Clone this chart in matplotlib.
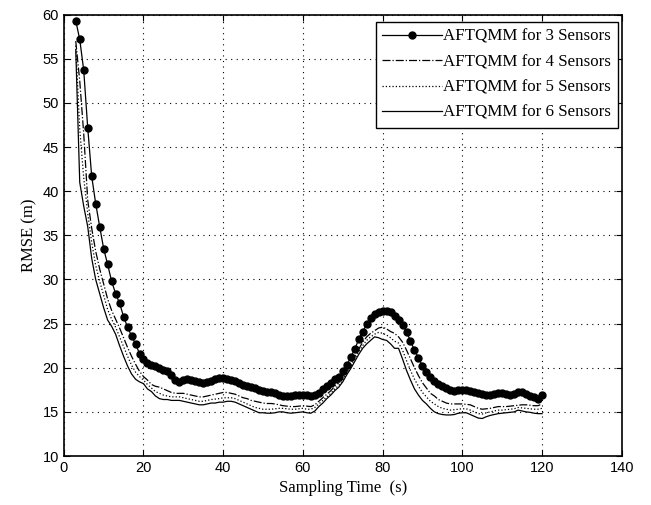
import numpy as np
import matplotlib
matplotlib.use('Agg')
import matplotlib.pyplot as plt

# sampling time (s)
t = np.arange(3, 121)

# RMSE (m), one value per second
rmse_3 = [59.3, 57.2, 53.7, 47.2, 41.7, 38.6, 36.0, 33.5, 31.7, 29.8,
          28.4, 27.3, 25.8, 24.6, 23.6, 22.7, 21.6, 21.0, 20.5, 20.3,
          20.2, 20.0, 19.8, 19.6, 19.2, 18.6, 18.4, 18.6, 18.7, 18.6,
          18.5, 18.4, 18.3, 18.4, 18.5, 18.7, 18.8, 18.8, 18.7, 18.6,
          18.5, 18.3, 18.1, 17.9, 17.8, 17.7, 17.5, 17.4, 17.3, 17.3,
          17.1, 16.9, 16.8, 16.8, 16.8, 16.9, 16.9, 16.9, 16.9, 16.8,
          16.9, 17.1, 17.6, 17.9, 18.3, 18.7, 19.0, 19.6, 20.3, 21.2,
          22.1, 23.2, 24.1, 24.9, 25.6, 26.1, 26.3, 26.45, 26.4, 26.3,
          25.9, 25.4, 24.8, 24.1, 23.0, 22.0, 21.1, 20.2, 19.5, 18.9,
          18.5, 18.2, 17.9, 17.7, 17.5, 17.4, 17.5, 17.5, 17.5, 17.4,
          17.2, 17.1, 17.0, 16.9, 16.9, 17.0, 17.1, 17.1, 17.0, 16.9,
          17.0, 17.2, 17.3, 17.0, 16.8, 16.7, 16.5, 16.9]

rmse_4 = [57.0, 52.5, 46.5, 39.0, 35.8, 33.2, 31.2, 29.5, 27.8, 26.5,
          25.5, 24.5, 23.4, 22.3, 21.3, 20.4, 19.6, 19.0, 18.6, 18.1,
          17.9, 17.8, 17.6, 17.4, 17.2, 17.1, 17.1, 17.1, 17.0, 16.9,
          16.8, 16.7, 16.7, 16.8, 16.9, 17.0, 17.1, 17.2, 17.2, 17.1,
          17.0, 16.8, 16.6, 16.5, 16.3, 16.2, 16.1, 16.0, 15.95, 15.95,
          15.9, 15.8, 15.7, 15.65, 15.6, 15.6, 15.65, 15.7, 15.65, 15.6,
          15.8, 16.2, 16.6, 17.0, 17.4, 17.9, 18.3, 18.9, 19.6, 20.4,
          21.3, 22.1, 22.9, 23.5, 23.9, 24.2, 24.5, 24.6, 24.4, 24.1,
          23.9, 23.5, 22.9, 22.0, 21.0, 20.0, 19.1, 18.3, 17.7, 17.1,
          16.8, 16.4, 16.2, 16.0, 15.9, 15.9, 15.9, 15.9, 15.85, 15.8,
          15.6, 15.4, 15.3, 15.35, 15.4, 15.5, 15.6, 15.6, 15.6, 15.65,
          15.7, 15.75, 15.8, 15.8, 15.75, 15.7, 15.7, 15.9]

rmse_5 = [56.5, 47.0, 41.5, 37.5, 34.2, 31.6, 29.8, 28.2, 26.6, 25.5,
          24.6, 23.5, 22.4, 21.3, 20.3, 19.5, 19.0, 18.6, 18.1, 17.7,
          17.3, 17.1, 16.9, 16.8, 16.7, 16.7, 16.7, 16.6, 16.5, 16.4,
          16.3, 16.2, 16.2, 16.3, 16.4, 16.45, 16.5, 16.6, 16.6, 16.6,
          16.5, 16.3, 16.1, 15.9, 15.7, 15.5, 15.4, 15.3, 15.3, 15.3,
          15.35, 15.4, 15.4, 15.35, 15.3, 15.3, 15.35, 15.4, 15.3, 15.3,
          15.5, 15.9, 16.3, 16.7, 17.1, 17.6, 18.0, 18.6, 19.4, 20.1,
          21.0, 21.8, 22.5, 23.1, 23.5, 23.8, 24.0, 23.9, 23.7, 23.4,
          23.0, 22.8, 22.0, 20.8, 19.7, 18.7, 17.9, 17.2, 16.7, 16.2,
          15.9, 15.6, 15.4, 15.3, 15.2, 15.25, 15.3, 15.35, 15.35, 15.2,
          15.0, 14.8, 14.75, 14.9, 15.0, 15.1, 15.2, 15.2, 15.25, 15.3,
          15.35, 15.5, 15.45, 15.4, 15.35, 15.3, 15.3, 15.4]

rmse_6 = [56.0, 41.0, 38.3, 36.0, 32.4, 30.0, 28.4, 26.8, 25.4, 24.7,
          23.8, 22.5, 21.3, 20.2, 19.3, 18.7, 18.4, 18.2, 17.6, 17.3,
          16.8, 16.5, 16.4, 16.4, 16.3, 16.3, 16.3, 16.2, 16.1, 16.0,
          15.9, 15.8, 15.8, 15.9, 16.0, 16.0, 16.1, 16.1, 16.2, 16.2,
          16.1, 15.9, 15.7, 15.5, 15.3, 15.1, 14.9, 14.9, 14.85, 14.85,
          14.9, 15.0, 15.0, 14.9, 14.85, 14.9, 14.95, 15.0, 14.9, 14.85,
          15.1, 15.6, 16.0, 16.5, 16.9, 17.4, 17.8, 18.4, 19.2, 19.9,
          20.7, 21.5, 22.2, 22.7, 23.1, 23.5, 23.4, 23.2, 23.1, 22.7,
          22.2, 22.2, 21.0, 19.7, 18.6, 17.6, 16.9, 16.3, 15.9, 15.4,
          15.0, 14.8, 14.7, 14.65, 14.65, 14.7, 14.85, 14.9, 14.9, 14.7,
          14.5, 14.3, 14.25, 14.45, 14.6, 14.7, 14.8, 14.85, 14.9, 14.95,
          15.0, 15.2, 15.1, 15.0, 14.95, 14.85, 14.8, 14.8]

labels = ['AFTQMM for 3 Sensors', 'AFTQMM for 4 Sensors',
          'AFTQMM for 5 Sensors', 'AFTQMM for 6 Sensors']

serif = 'Liberation Serif'
sans = 'Liberation Sans'

fig = plt.figure(figsize=(6.51, 5.05), dpi=100)
ax = fig.add_axes([0.098, 0.097, 0.857, 0.874])

ax.plot(t, rmse_3, '-', color='k', lw=0.9, marker='o', markersize=5, label=labels[0])
ax.plot(t, rmse_4, '-.', color='k', lw=0.9, label=labels[1])
ax.plot(t, rmse_5, ':', color='k', lw=0.9, label=labels[2])
ax.plot(t, rmse_6, '-', color='k', lw=0.9, label=labels[3])

ax.set_xlim(0, 140)
ax.set_ylim(10, 60)
ax.set_xticks(np.arange(0, 141, 20))
ax.set_yticks(np.arange(10, 61, 5))
ax.grid(True, linestyle=(0, (1, 4)), color='k', lw=0.8)
ax.tick_params(direction='in', length=4, width=0.8, top=True, right=True,
               labelsize=10.5)
for lab in ax.get_xticklabels() + ax.get_yticklabels():
    lab.set_family(sans)
for sp in ax.spines.values():
    sp.set_linewidth(1.2)

ax.set_xlabel('Sampling Time  (s)', family=serif, fontsize=12)
ax.set_ylabel('RMSE (m)', family=serif, fontsize=12)

leg = ax.legend(loc='upper right', bbox_to_anchor=(0.9493, 0.9564),
                bbox_transform=fig.transFigure, borderaxespad=0,
                prop={'family': serif, 'size': 12.2},
                fancybox=False, edgecolor='k', framealpha=1, numpoints=1,
                handlelength=3.5, handletextpad=0.1,
                labelspacing=0.55, borderpad=0.4)
leg.get_frame().set_linewidth(1.0)

fig.savefig('out.png', dpi=100)
